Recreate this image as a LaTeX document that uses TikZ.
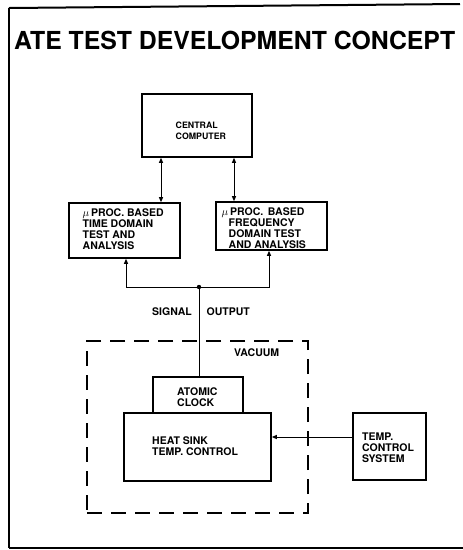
\documentclass[tikz,border=0pt]{standalone}
\usepackage{fontspec}
\setmainfont{TeX Gyre Heros}
\usetikzlibrary{arrows.meta}
\begin{document}
\begin{tikzpicture}[x=1pt,y=-1pt,
  box/.style={draw,line width=1.6pt,rectangle,inner sep=0pt},
  lbl/.style={anchor=base west,inner sep=0pt,font=\fontsize{10.5}{10.8}\selectfont\bfseries,align=left},
  sml/.style={anchor=base west,inner sep=0pt,font=\fontsize{8.8}{11}\selectfont\bfseries,align=left},
  conn/.style={line width=1pt},
  tip/.style={-{Triangle[length=5pt,width=4pt]}},
  tips/.style={{Triangle[length=5pt,width=4pt]}-{Triangle[length=5pt,width=4pt]}},
  vac/.style={draw,line width=1.7pt,dash pattern=on 15pt off 9pt,rectangle,inner sep=0pt}
]
\useasboundingbox (0,0) rectangle (463,550);
% frame
\draw[line width=2pt] (9,8) -- (460,4);
\draw[line width=2pt] (9,8) -- (9,548);
\draw[line width=2pt] (9,548) -- (463,548);
% title
\node[anchor=base west,inner sep=0pt,font=\fontsize{24.8}{28}\selectfont\bfseries] (title) at (14,49) {ATE TEST DEVELOPMENT CONCEPT};
% boxes
\node[box,minimum width=110pt,minimum height=63pt] (cc) at (197,125.5) {};
\node[box,minimum width=111pt,minimum height=55pt] (tdp) at (124.5,230.5) {};
\node[box,minimum width=111pt,minimum height=48pt] (fdp) at (271.5,226) {};
\node[vac,minimum width=221pt,minimum height=172pt] (vacbox) at (197.5,427) {};
\node[box,minimum width=90pt,minimum height=36pt] (clock) at (198,395) {};
\node[box,minimum width=147pt,minimum height=68pt] (sink) at (197.5,447) {};
\node[box,minimum width=73pt,minimum height=67pt] (tcs) at (389.5,446.5) {};
% texts (anchor = baseline of last line)
\node[sml] (cct) at (175.5,139.5) {CENTRAL\\COMPUTER};
\node[lbl] (tdt) at (82.5,249) {{\mdseries$\mu$}\,PROC. BASED\\TIME DOMAIN\\TEST AND\\ANALYSIS};
\node[lbl] (fdt) at (221.5,248) {{\mdseries$\mu$}\,PROC.\ \,BASED\\\hspace*{7pt}FREQUENCY\\\hspace*{7pt}DOMAIN TEST\\\hspace*{7pt}AND ANALYSIS};
\node[lbl] (vact) at (234,356) {VACUUM};
\node[lbl] (sigt) at (152,315) {SIGNAL};
\node[lbl] (outt) at (206.5,315) {OUTPUT};
\node[lbl] (clkt) at (177,406.7) {ATOMIC\\CLOCK};
\node[lbl] (snkt) at (152,455.7) {HEAT SINK\\TEMP. CONTROL};
\node[lbl] (tcst) at (362,462) {TEMP.\\CONTROL\\SYSTEM};
% connectors
\draw[conn,tips] (cc.south -| 161,0) -- (tdp.north -| 161,0);
\draw[conn,tips] (cc.south -| 234,0) -- (fdp.north -| 234,0);
\coordinate (j) at (199,287);
\coordinate (jl) at (126,287);
\coordinate (jr) at (269,287);
\draw[conn,tip] (j) -- (jl) -- (tdp.south -| jl);
\draw[conn,tip] (j) -- (jr) -- (fdp.south -| jr);
\draw[conn] (j) -- (clock.north -| j);
\fill (j) circle (2.2pt);
\draw[conn,tip] (tcs.west |- 0,437) -- (sink.east |- 0,437);
\end{tikzpicture}
\end{document}
